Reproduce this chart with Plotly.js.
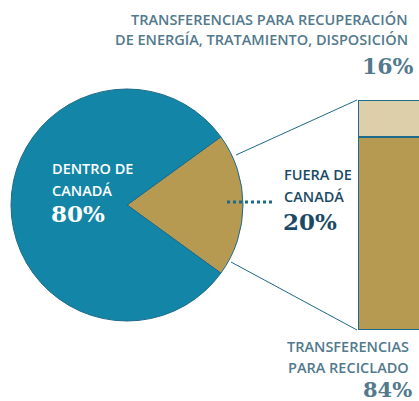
<!DOCTYPE html>
<html>
<head>
<meta charset="utf-8">
<script src="https://cdn.plot.ly/plotly-3.0.1.min.js"></script>
<style>
  html, body { margin: 0; padding: 0; background: #fff; }
  #chart { width: 419px; height: 401px; }
</style>
</head>
<body>
<div id="chart"></div>
<script>
// pie: where the waste goes
const pieLabels = ['FUERA DE CANADÁ', 'DENTRO DE CANADÁ'];
const pieValues = [20, 80];

// breakdown of the 20% shipped outside Canada
const barLabels = ['TRANSFERENCIAS PARA RECICLADO', 'TRANSFERENCIAS PARA RECUPERACIÓN DE ENERGÍA, TRATAMIENTO, DISPOSICIÓN'];
const barValues = [84, 16];

const BLUE = '#1386a7';
const TAN = '#b69a52';
const LIGHT_TAN = '#dccfa9';
const EDGE = '#1d6a8a';
const GREYBLUE = '#52798c';
const NAVY = '#1b4a66';

const W = 419, H = 401;
const px = x => x / W;
const py = y => 1 - y / H;

const pie = {
  type: 'pie',
  labels: pieLabels,
  values: pieValues,
  sort: false,
  direction: 'clockwise',
  rotation: 54,
  textinfo: 'none',
  hoverinfo: 'label+percent',
  marker: { colors: [TAN, BLUE], line: { color: EDGE, width: 1 } },
  domain: { x: [px(11), px(243)], y: [py(321), py(89)] },
  showlegend: false
};

const barColors = [TAN, LIGHT_TAN];
const bars = barValues.map((v, i) => ({
  type: 'bar',
  x: [0],
  y: [v],
  width: 1,
  name: barLabels[i],
  marker: { color: barColors[i], line: { color: EDGE, width: 2 } },
  hoverinfo: 'name+y',
  showlegend: false
}));

const sans = 'Open Sans, Noto Sans, sans-serif';
const serif = 'DejaVu Serif, Liberation Serif, serif';

// y is roughly the vertical centre of the capitals
const ann = (x, y, text, size, color, family, anchor, weight) => ({
  xref: 'paper', yref: 'paper', x: px(x), y: py(y),
  xanchor: anchor, yanchor: 'middle', showarrow: false, borderpad: 0,
  text: text, font: { size: size, color: color, family: family, weight: weight || 600 },
  align: anchor === 'right' ? 'right' : 'left'
});

const annotations = [
  ann(409, 19, 'TRANSFERENCIAS PARA RECUPERACIÓN', 14.5, GREYBLUE, sans, 'right'),
  ann(409, 39, 'DE ENERGÍA, TRATAMIENTO, DISPOSICIÓN', 14.5, GREYBLUE, sans, 'right'),
  ann(415, 66, barValues[1] + '%', 22, GREYBLUE, serif, 'right', 700),

  ann(410, 346, 'TRANSFERENCIAS', 14.5, GREYBLUE, sans, 'right'),
  ann(410, 367, 'PARA RECICLADO', 14.5, GREYBLUE, sans, 'right'),
  ann(413, 389, barValues[0] + '%', 21, GREYBLUE, serif, 'right', 700),

  ann(51, 168, 'DENTRO DE', 14.5, '#ffffff', sans, 'left'),
  ann(51, 190, 'CANADÁ', 14.5, '#ffffff', sans, 'left'),
  ann(50, 214, pieValues[1] + '%', 23, '#ffffff', serif, 'left', 700),

  ann(283, 174, 'FUERA DE', 14.5, NAVY, sans, 'left'),
  ann(283, 196, 'CANADÁ', 14.5, NAVY, sans, 'left'),
  ann(282, 221, pieValues[0] + '%', 23, NAVY, serif, 'left', 700)
];

const shapes = [
  { type: 'line', xref: 'paper', yref: 'paper', x0: px(236), y0: py(155), x1: px(357), y1: py(100),
    line: { color: EDGE, width: 1 } },
  { type: 'line', xref: 'paper', yref: 'paper', x0: px(231), y0: py(262), x1: px(357), y1: py(330),
    line: { color: EDGE, width: 1 } },
  { type: 'line', xref: 'paper', yref: 'paper', x0: px(227), y0: py(202), x1: px(274), y1: py(202),
    line: { color: EDGE, width: 3, dash: 'dot' } }
];

const layout = {
  width: W,
  height: H,
  margin: { l: 0, r: 0, t: 0, b: 0 },
  paper_bgcolor: '#ffffff',
  plot_bgcolor: 'rgba(0,0,0,0)',
  barmode: 'stack',
  xaxis: { domain: [px(358), 1], range: [-0.5, 0.35], visible: false, fixedrange: true },
  yaxis: { domain: [py(330), py(100)], range: [0, 100], visible: false, fixedrange: true },
  annotations: annotations,
  shapes: shapes
};

Plotly.newPlot('chart', [pie, ...bars], layout, { displayModeBar: false, staticPlot: true });
</script>
</body>
</html>
